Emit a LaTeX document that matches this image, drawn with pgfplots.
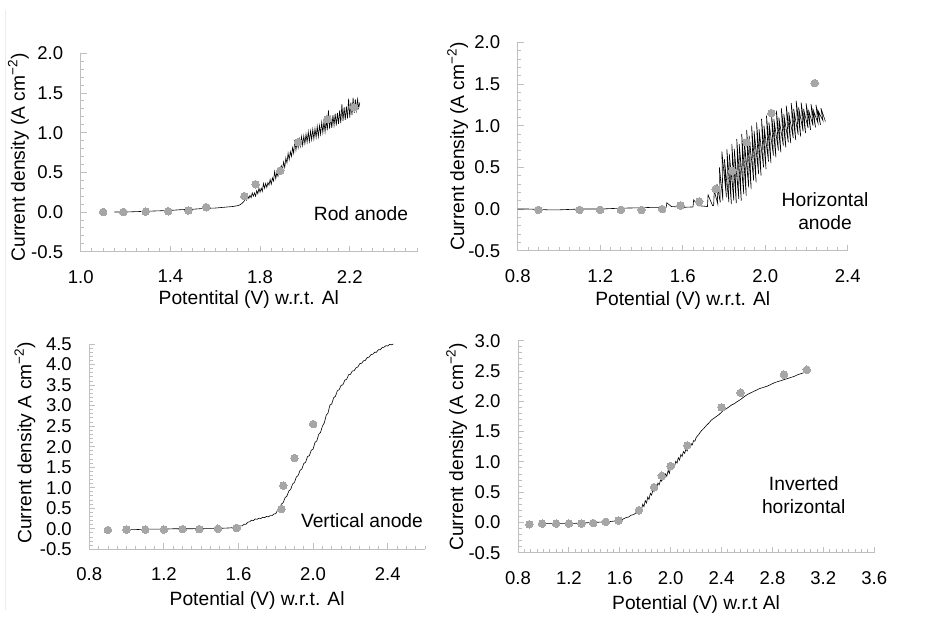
\documentclass[border=0pt]{standalone}
\usepackage{fontspec}
\setmainfont{Liberation Sans}
\usepackage{pgfplots}
\pgfplotsset{compat=1.18}
\definecolor{axisgray}{RGB}{191,191,191}
\definecolor{markgray}{RGB}{166,166,166}
\newcommand\fs{\fontsize{19.3}{23}\selectfont}
\newcommand\ts{\fontsize{18.6}{22}\selectfont}
\pgfplotsset{
 excel/.style={
  scale only axis, anchor=south west, clip=false,
  axis lines=left,
  axis line style={-, draw=axisgray, line width=0.9bp},
  tick style={draw=axisgray, line width=0.9bp},
  tick align=inside,
  major tick length=6bp, minor tick length=3.5bp,
  tick label style={font=\ts},
  yticklabel style={xshift=-14bp},
  xticklabel style={yshift=-15bp},
  label style={font=\fs},
  xlabel style={at={(axis description cs:0.5,0)}, anchor=center},
  ylabel style={anchor=center},
 },
 dots/.style={only marks, mark=*, mark size=3.8bp, mark options={draw=markgray, fill=markgray, line width=0pt}},
 trace/.style={black, line width=0.6bp, mark=none},
}
\begin{document}
\begin{tikzpicture}
\path[use as bounding box] (0,0) rectangle (933bp,617bp);
\draw[color={rgb,255:red,236;green,236;blue,236}, line width=0.8bp] (5bp,7bp) -- (5bp,607bp);

% ---------- Rod anode ----------
\begin{axis}[excel, at={(80.7bp,365.3bp)}, width=336.3bp, height=198.4bp,
 xmin=1.0, xmax=2.5, ymin=-0.5, ymax=2.0,
 xtick={1.0,1.4,1.8,2.2}, xticklabels={1.0,1.4,1.8,2.2},
 minor xtick={1.0,1.05,...,2.51},
 ytick={-0.5,0,0.5,1,1.5,2}, yticklabels={-0.5,0.0,0.5,1.0,1.5,2.0},
 minor ytick={-0.5,-0.4,...,2.01},
 xlabel={Potentital (V) w.r.t. Al},
 ylabel={Current density (A cm\textsuperscript{−2})},
 xlabel style={yshift=-48bp},
 ylabel style={at={(axis description cs:-0.185,0.475)}},
]
\addplot[dots] coordinates {(1.10,0.00) (1.19,0.00) (1.29,0.005) (1.39,0.01) (1.48,0.02) (1.56,0.06) (1.73,0.20) (1.78,0.35) (1.89,0.52) (1.97,0.88) (2.10,1.17) (2.22,1.32)};
\addplot[trace] coordinates {
(1.15,0.00) (1.20,0.00) (1.25,0.005) (1.30,0.01) (1.35,0.015) (1.40,0.02) (1.45,0.03) (1.50,0.035) (1.55,0.045) (1.60,0.05) (1.62,0.055) (1.64,0.06) (1.66,0.065) (1.68,0.07) (1.70,0.08) (1.71,0.09) (1.72,0.11) (1.73,0.14)
(1.735,0.18) (1.740,0.15) (1.745,0.20) (1.750,0.17) (1.755,0.21) (1.760,0.18) (1.765,0.24) (1.770,0.20) (1.775,0.24) (1.780,0.20)
(1.785,0.27) (1.790,0.23) (1.795,0.30) (1.800,0.25) (1.805,0.30) (1.810,0.26) (1.815,0.36) (1.820,0.30) (1.825,0.36) (1.830,0.31)
(1.835,0.37) (1.840,0.34) (1.845,0.41) (1.850,0.35) (1.855,0.43) (1.860,0.39) (1.865,0.51) (1.870,0.42) (1.875,0.50) (1.880,0.45)
(1.885,0.54) (1.890,0.49) (1.895,0.58) (1.900,0.53) (1.905,0.63) (1.910,0.56) (1.915,0.68) (1.920,0.62) (1.925,0.74) (1.930,0.66)
(1.935,0.76) (1.940,0.70) (1.945,0.81) (1.950,0.74) (1.955,0.91) (1.960,0.78) (1.965,0.88) (1.970,0.81) (1.975,0.92) (1.980,0.83)
(1.985,0.95) (1.990,0.84) (1.995,0.96) (2.000,0.86) (2.005,0.98) (2.010,0.88) (2.015,1.01) (2.020,0.89) (2.025,1.02) (2.030,0.91)
(2.035,1.04) (2.040,0.92) (2.045,1.05) (2.050,0.94) (2.055,1.08) (2.060,0.95) (2.065,1.09) (2.070,0.98) (2.075,1.13) (2.080,1.00)
(2.085,1.14) (2.090,1.01) (2.095,1.16) (2.100,1.03) (2.105,1.28) (2.110,1.05) (2.115,1.19) (2.120,1.06) (2.125,1.22) (2.130,1.09)
(2.135,1.24) (2.140,1.09) (2.145,1.25) (2.150,1.11) (2.155,1.28) (2.160,1.12) (2.165,1.36) (2.170,1.15) (2.175,1.32) (2.180,1.16)
(2.185,1.33) (2.190,1.18) (2.195,1.43) (2.200,1.19) (2.205,1.38) (2.210,1.22) (2.215,1.44) (2.220,1.25) (2.225,1.42) (2.230,1.28)
(2.235,1.42) (2.240,1.31) (2.245,1.38)};
\node[font=\fs] at (axis cs:2.25,-0.02) {Rod anode};
\end{axis}

% ---------- Horizontal anode ----------
\begin{axis}[excel, at={(517.7bp,366.3bp)}, width=330bp, height=208.4bp,
 xmin=0.8, xmax=2.4, ymin=-0.5, ymax=2.0,
 xtick={0.8,1.2,1.6,2.0,2.4}, xticklabels={0.8,1.2,1.6,2.0,2.4},
 minor xtick={0.8,0.85,...,2.41},
 ytick={-0.5,0,0.5,1,1.5,2}, yticklabels={-0.5,0.0,0.5,1.0,1.5,2.0},
 minor ytick={-0.5,-0.4,...,2.01},
 xlabel={Potential (V) w.r.t. Al},
 ylabel={Current density (A cm\textsuperscript{−2})},
 xlabel style={yshift=-49.5bp},
 ylabel style={at={(axis description cs:-0.182,0.5)}},
]
\addplot[dots] coordinates {(0.90,-0.01) (1.10,-0.01) (1.20,-0.01) (1.30,-0.01) (1.40,-0.01) (1.50,0.00) (1.59,0.04) (1.68,0.09) (1.76,0.24) (1.84,0.46) (1.91,0.80) (2.03,1.15) (2.24,1.51)};
\addplot[trace] coordinates {
(0.80,0.00) (0.85,0.00) (0.90,-0.005) (0.95,-0.01) (1.00,-0.01) (1.05,-0.005) (1.10,0.00) (1.20,0.00) (1.30,0.01) (1.40,0.015) (1.45,0.02) (1.50,0.02) (1.52,0.02)
(1.523,0.075) (1.545,0.03) (1.60,0.02) (1.65,0.025) (1.653,0.11) (1.675,0.04) (1.72,0.03) (1.723,0.17) (1.745,0.04) (1.75,0.04)
(1.753,0.22) (1.770,0.06) (1.766,0.30) (1.782,0.08) (1.778,0.50) (1.795,0.10)
(1.790,0.69) (1.812,0.14) (1.802,0.60) (1.824,0.08) (1.814,0.72) (1.836,0.06) (1.826,0.66) (1.848,0.10)
(1.838,0.78) (1.860,0.07) (1.850,0.72) (1.872,0.12) (1.862,0.84) (1.884,0.10) (1.874,0.78) (1.896,0.18)
(1.886,0.90) (1.908,0.16) (1.898,0.84) (1.920,0.26) (1.910,0.95) (1.932,0.24) (1.922,0.88) (1.944,0.34)
(1.934,1.00) (1.956,0.32) (1.946,0.94) (1.968,0.42) (1.958,1.04) (1.980,0.40) (1.970,0.96) (1.992,0.50)
(1.982,1.08) (2.004,0.48) (1.994,1.00) (2.016,0.57) (2.006,1.12) (2.028,0.55) (2.018,1.04) (2.040,0.64)
(2.030,1.15) (2.052,0.62) (2.042,1.08) (2.064,0.70) (2.054,1.18) (2.076,0.68) (2.066,1.10) (2.088,0.76)
(2.078,1.21) (2.100,0.74) (2.090,1.14) (2.112,0.80) (2.102,1.24) (2.124,0.79) (2.114,1.16) (2.136,0.85)
(2.126,1.27) (2.148,0.83) (2.138,1.20) (2.160,0.89) (2.150,1.30) (2.172,0.87) (2.162,1.22) (2.184,0.93)
(2.174,1.28) (2.196,0.91) (2.186,1.20) (2.208,0.97) (2.198,1.27) (2.220,0.95) (2.210,1.19) (2.232,1.00)
(2.222,1.26) (2.244,0.98) (2.234,1.18) (2.256,1.03) (2.246,1.25) (2.268,1.01) (2.258,1.17) (2.280,1.06)
(2.270,1.21) (2.292,1.05)};
\node[font=\fs, align=center] at (axis cs:2.29,-0.02) {Horizontal\\anode};
\end{axis}

% ---------- Vertical anode ----------
\begin{axis}[excel, at={(89.3bp,67.7bp)}, width=335.7bp, height=205.3bp,
 xmin=0.8, xmax=2.6, ymin=-0.5, ymax=4.5,
 xtick={0.8,1.2,1.6,2.0,2.4}, xticklabels={0.8,1.2,1.6,2.0,2.4},
 minor xtick={0.8,0.85,...,2.61},
 ytick={-0.5,0,...,4.5}, yticklabels={-0.5,0.0,0.5,1.0,1.5,2.0,2.5,3.0,3.5,4.0,4.5},
 minor ytick={-0.5,-0.4,...,4.51},
 xlabel={Potential (V) w.r.t. Al},
 ylabel={Current density A cm\textsuperscript{−2})},
 xlabel style={yshift=-51bp},
 ylabel style={at={(axis description cs:-0.192,0.518)}},
]
\addplot[dots] coordinates {(0.90,-0.03) (1.00,-0.02) (1.10,-0.02) (1.20,-0.02) (1.30,-0.01) (1.39,-0.01) (1.49,0.00) (1.59,0.02) (1.83,0.48) (1.84,1.05) (1.90,1.72) (2.00,2.55)};
\addplot[trace] coordinates {
(1.00,-0.02) (1.05,-0.02) (1.10,-0.01) (1.15,-0.01) (1.20,-0.01) (1.25,0.00) (1.30,0.00) (1.35,0.00) (1.40,0.01) (1.45,0.01) (1.50,0.01) (1.55,0.02) (1.58,0.03)
(1.60,0.04) (1.61,0.07) (1.62,0.07) (1.63,0.11) (1.64,0.11) (1.65,0.16) (1.66,0.17) (1.67,0.21) (1.68,0.20) (1.69,0.24) (1.70,0.23)
(1.71,0.26) (1.72,0.25) (1.73,0.28) (1.74,0.27) (1.75,0.30) (1.76,0.29) (1.77,0.32) (1.78,0.32) (1.79,0.36) (1.80,0.37)
(1.81,0.46) (1.82,0.48) (1.83,0.60) (1.84,0.64) (1.85,0.76) (1.86,0.80) (1.87,0.92) (1.88,0.96) (1.89,1.09) (1.90,1.13)
(1.91,1.26) (1.92,1.30) (1.93,1.42) (1.94,1.46) (1.95,1.59) (1.96,1.62) (1.97,1.76) (1.98,1.78) (1.99,1.91) (2.00,1.94)
(2.01,2.10) (2.02,2.14) (2.03,2.30) (2.04,2.35) (2.05,2.50) (2.06,2.58) (2.07,2.76) (2.08,2.82) (2.09,3.01) (2.10,3.04)
(2.11,3.19) (2.12,3.23) (2.13,3.36) (2.14,3.39) (2.15,3.49) (2.16,3.51) (2.17,3.62) (2.18,3.64) (2.19,3.75) (2.20,3.76)
(2.21,3.84) (2.22,3.85) (2.23,3.92) (2.24,3.94) (2.25,4.02) (2.26,4.03) (2.27,4.09) (2.28,4.10) (2.29,4.17) (2.30,4.18)
(2.31,4.24) (2.32,4.25) (2.33,4.30) (2.34,4.30) (2.35,4.36) (2.36,4.36) (2.37,4.41) (2.38,4.42) (2.39,4.46) (2.40,4.45)
(2.41,4.49) (2.42,4.48) (2.43,4.50)};
\node[font=\fs] at (axis cs:2.262,0.19) {Vertical anode};
\end{axis}

% ---------- Inverted horizontal ----------
\begin{axis}[excel, at={(518bp,64.3bp)}, width=356.2bp, height=212bp,
 xmin=0.8, xmax=3.6, ymin=-0.5, ymax=3.0,
 xtick={0.8,1.2,1.6,2.0,2.4,2.8,3.2,3.6}, xticklabels={0.8,1.2,1.6,2.0,2.4,2.8,3.2,3.6},
 minor xtick={0.8,0.85,...,3.61},
 ytick={-0.5,0,...,3.0}, yticklabels={-0.5,0.0,0.5,1.0,1.5,2.0,2.5,3.0},
 minor ytick={-0.5,-0.4,...,3.01},
 xlabel={Potential (V) w.r.t Al},
 ylabel={Current density (A cm\textsuperscript{−2})},
 xlabel style={yshift=-52bp},
 ylabel style={at={(axis description cs:-0.172,0.5)}},
]
\addplot[dots] coordinates {(0.89,-0.03) (0.99,-0.02) (1.10,-0.02) (1.20,-0.02) (1.30,-0.02) (1.39,-0.01) (1.49,0.01) (1.59,0.03) (1.75,0.20) (1.87,0.58) (1.93,0.77) (2.00,0.93) (2.13,1.27) (2.40,1.90) (2.55,2.14) (2.89,2.44) (3.07,2.52)};
\addplot[trace] coordinates {
(0.99,-0.02) (1.05,-0.02) (1.10,-0.02) (1.15,-0.02) (1.20,-0.02) (1.25,-0.015) (1.30,-0.01) (1.35,-0.005) (1.40,0.00) (1.45,0.005) (1.50,0.01) (1.55,0.02) (1.59,0.03)
(1.61,0.04) (1.63,0.06) (1.65,0.08) (1.67,0.09) (1.69,0.12) (1.71,0.13) (1.73,0.16) (1.75,0.18)
(1.76,0.24) (1.77,0.20) (1.78,0.30) (1.79,0.26) (1.80,0.36) (1.81,0.32) (1.82,0.42) (1.83,0.38) (1.84,0.48) (1.85,0.45)
(1.86,0.53) (1.87,0.51) (1.88,0.59) (1.89,0.56) (1.90,0.65) (1.91,0.62) (1.92,0.70) (1.93,0.68) (1.94,0.76) (1.95,0.72)
(1.96,0.80) (1.97,0.76) (1.98,0.86) (1.99,0.81) (2.00,0.91) (2.01,0.88) (2.02,0.96) (2.03,0.92) (2.04,1.01) (2.05,0.98)
(2.06,1.07) (2.07,1.03) (2.08,1.12) (2.09,1.09) (2.10,1.17) (2.11,1.14) (2.12,1.21) (2.13,1.18) (2.14,1.26) (2.15,1.24)
(2.16,1.30) (2.17,1.28) (2.18,1.35) (2.19,1.34) (2.20,1.40) (2.22,1.45) (2.24,1.51) (2.26,1.55) (2.28,1.60) (2.30,1.64)
(2.32,1.69) (2.34,1.72) (2.36,1.75) (2.38,1.78) (2.40,1.82) (2.42,1.86) (2.44,1.88) (2.46,1.91) (2.48,1.94) (2.50,1.96)
(2.52,1.99) (2.55,2.03) (2.58,2.08) (2.61,2.12) (2.64,2.15) (2.67,2.18) (2.70,2.21) (2.73,2.23) (2.76,2.25) (2.79,2.28)
(2.82,2.31) (2.85,2.33) (2.88,2.35) (2.91,2.37) (2.94,2.39) (2.97,2.41) (3.00,2.44) (3.03,2.46) (3.06,2.48) (3.08,2.50)};
\node[font=\fs, align=center] at (axis cs:3.046,0.45) {Inverted\\horizontal};
\end{axis}
\end{tikzpicture}
\end{document}
